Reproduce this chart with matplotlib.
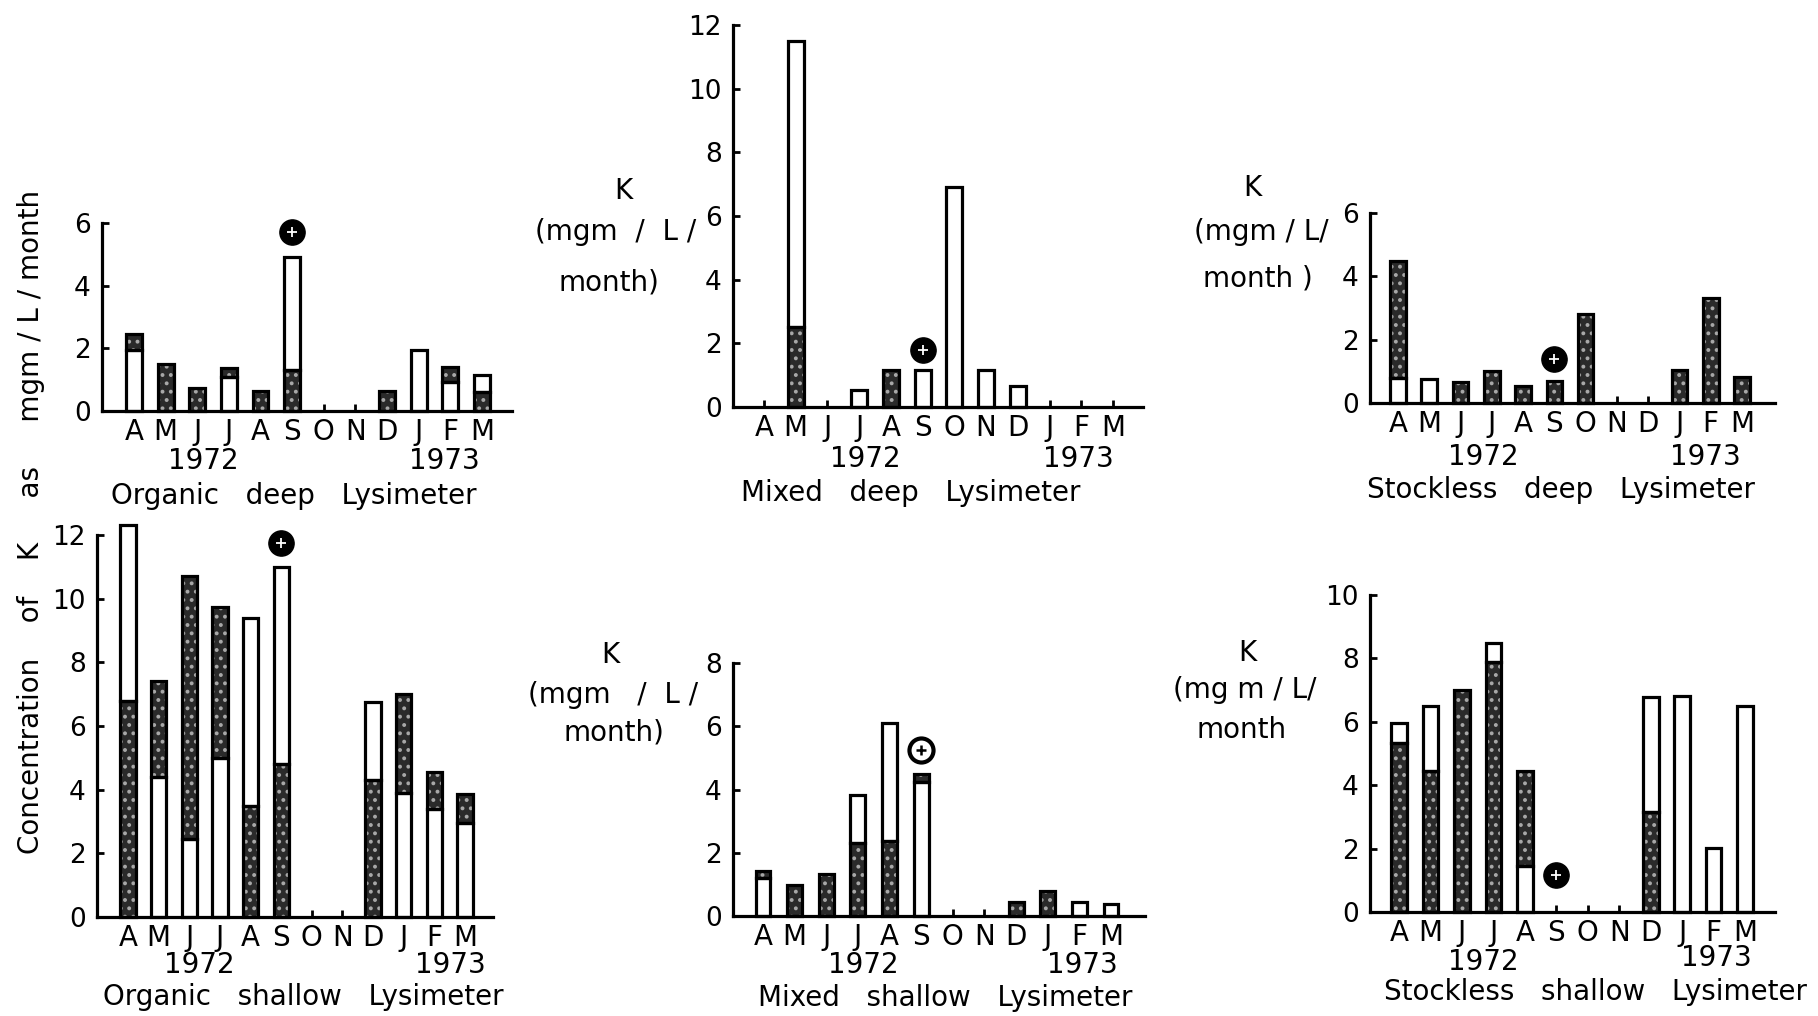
import numpy as np
import matplotlib
matplotlib.use('Agg')
import matplotlib.pyplot as plt

# month axis, April 1972 to March 1973
months = ['A', 'M', 'J', 'J', 'A', 'S', 'O', 'N', 'D', 'J', 'F', 'M']

# each bar = lower segment + upper segment, one white and one stippled;
# *_low_dark says whether the lower segment is the stippled one
org_deep_lower = [1.95, 1.5, 0.72, 1.08, 0.65, 1.3, 0, 0, 0.65, 1.95, 0.93, 0.6]
org_deep_upper = [0.5, 0, 0, 0.3, 0, 3.6, 0, 0, 0, 0, 0.47, 0.55]
org_deep_low_dark = [0, 1, 1, 0, 1, 1, 0, 0, 1, 0, 0, 1]
org_deep_mark = 5.7

mix_deep_lower = [0, 2.5, 0, 0.52, 1.15, 1.15, 6.9, 1.15, 0.65, 0, 0, 0]
mix_deep_upper = [0, 9.0, 0, 0, 0, 0, 0, 0, 0, 0, 0, 0]
mix_deep_low_dark = [0, 1, 0, 0, 1, 0, 0, 0, 0, 0, 0, 0]
mix_deep_mark = 1.8

stk_deep_lower = [0.8, 0.77, 0.66, 1.02, 0.55, 0.7, 2.8, 0, 0, 1.05, 3.32, 0.82]
stk_deep_upper = [3.7, 0, 0, 0, 0, 0, 0, 0, 0, 0, 0, 0]
stk_deep_low_dark = [0, 0, 1, 1, 1, 1, 1, 0, 0, 1, 1, 1]
stk_deep_mark = 1.4

org_shal_lower = [6.8, 4.4, 2.45, 5.0, 3.5, 4.8, 0, 0, 4.3, 3.9, 3.4, 2.95]
org_shal_upper = [5.5, 3.0, 8.25, 4.75, 5.9, 6.2, 0, 0, 2.45, 3.1, 1.15, 0.9]
org_shal_low_dark = [1, 0, 0, 0, 1, 1, 0, 0, 1, 0, 0, 0]
org_shal_mark = 11.75

mix_shal_lower = [1.2, 0.98, 1.32, 2.32, 2.37, 4.25, 0, 0, 0.45, 0.8, 0.45, 0.37]
mix_shal_upper = [0.22, 0, 0, 1.51, 3.73, 0.24, 0, 0, 0, 0, 0, 0]
mix_shal_low_dark = [0, 1, 1, 1, 1, 0, 0, 0, 1, 1, 0, 0]
mix_shal_mark = 5.25

stk_shal_lower = [5.32, 4.44, 7.0, 7.9, 1.44, 0, 0, 0, 3.14, 6.8, 2.03, 6.5]
stk_shal_upper = [0.65, 2.06, 0, 0.6, 3.01, 0, 0, 0, 3.63, 0, 0, 0]
stk_shal_low_dark = [1, 1, 1, 1, 0, 0, 0, 0, 1, 0, 0, 0]
stk_shal_mark = 1.16

W, H = 1818, 1016
FS = 20
plt.rcParams['font.family'] = 'DejaVu Sans'
plt.rcParams['hatch.linewidth'] = 1.6

fig = plt.figure(figsize=(W / 100, H / 100), dpi=100)
fig.patch.set_facecolor('white')


def ftext(x, y, s, **kw):
    # place text by pixel position of the reference
    kw.setdefault('fontsize', FS)
    fig.text(x / W, 1 - y / H, s, ha='center', va='center', **kw)


def segment(ax, x, bottom, h, dark, width):
    if h <= 0:
        return
    if dark:
        ax.bar(x, h, width, bottom=bottom, color='#2a2a2a', edgecolor='#a8a8a8',
               hatch='..', lw=0, clip_on=False, zorder=2)
    else:
        ax.bar(x, h, width, bottom=bottom, color='white', lw=0, clip_on=False, zorder=2)
    ax.bar(x, h, width, bottom=bottom, fill=False, edgecolor='black', lw=2.3,
           clip_on=False, zorder=3)


def panel(yaxis_x, first_x, last_x, end_x, zero_y, top_y, ytop,
          lower, upper, low_dark, mark, ring=False, width=0.5):
    step = (last_x - first_x) / 11
    ax = fig.add_axes([yaxis_x / W, 1 - zero_y / H,
                       (end_x - yaxis_x) / W, (zero_y - top_y) / H])
    ax.set_xlim(-(first_x - yaxis_x) / step, 11 + (end_x - last_x) / step)
    ax.set_ylim(0, ytop)
    x = np.arange(len(months))
    for i in x:
        segment(ax, i, 0, lower[i], low_dark[i], width)
        segment(ax, i, lower[i], upper[i], not low_dark[i], width)
    if ring:
        ax.scatter(5, mark, s=300, facecolor='white', edgecolor='black', lw=3,
                   zorder=5, clip_on=False)
        ax.scatter(5, mark, s=60, marker='+', c='black', lw=1.8, zorder=6, clip_on=False)
    else:
        ax.scatter(5, mark, s=330, c='black', zorder=5, clip_on=False)
        ax.scatter(5, mark, s=50, marker='+', c='white', lw=1.3, zorder=6, clip_on=False)
    ax.set_xticks(x)
    ax.set_xticklabels(months)
    ax.set_yticks(np.arange(0, ytop + 1, 2))
    ax.tick_params(axis='x', direction='in', length=5, width=2, pad=5, labelsize=FS)
    ax.tick_params(axis='y', direction='in', length=5, width=2, pad=8, labelsize=FS - 1)
    for s in ['top', 'right']:
        ax.spines[s].set_visible(False)
    for s in ['left', 'bottom']:
        ax.spines[s].set_linewidth(2.3)
    ax.patch.set_alpha(0)
    return ax


# Organic deep
panel(102, 134, 482, 512, 411, 223, 6,
      org_deep_lower, org_deep_upper, org_deep_low_dark, org_deep_mark)
ftext(203, 461, '1972')
ftext(444, 461, '1973')
ftext(294, 496, 'Organic   deep   Lysimeter')

# Organic shallow
panel(97, 128, 465, 493, 917, 535, 12,
      org_shal_lower, org_shal_upper, org_shal_low_dark, org_shal_mark)
ftext(199, 965, '1972')
ftext(450, 965, '1973')
ftext(303, 997, 'Organic   shallow   Lysimeter')

# Mixed deep
panel(733, 764, 1113, 1143, 407, 25, 12,
      mix_deep_lower, mix_deep_upper, mix_deep_low_dark, mix_deep_mark)
ftext(865, 459, '1972')
ftext(1078, 459, '1973')
ftext(911, 493, 'Mixed   deep   Lysimeter')
ftext(623, 191, 'K')
ftext(616, 232, '(mgm  /  L /')
ftext(609, 282, 'month)')

# Mixed shallow
panel(733, 763, 1111, 1145, 916, 663, 8,
      mix_shal_lower, mix_shal_upper, mix_shal_low_dark, mix_shal_mark,
      ring=True, width=0.47)
ftext(863, 965, '1972')
ftext(1082, 965, '1973')
ftext(945, 998, 'Mixed   shallow   Lysimeter')
ftext(610, 655, 'K')
ftext(613, 695, '(mgm   /  L /')
ftext(614, 733, 'month)')

# Stockless deep
panel(1370, 1398, 1742, 1775, 403, 213, 6,
      stk_deep_lower, stk_deep_upper, stk_deep_low_dark, stk_deep_mark)
ftext(1483, 457, '1972')
ftext(1705, 457, '1973')
ftext(1561, 490, 'Stockless   deep   Lysimeter')
ftext(1252, 188, 'K')
ftext(1261, 232, '(mgm / L/')
ftext(1258, 278, 'month )')

# Stockless shallow
panel(1370, 1399, 1745, 1775, 912, 595, 10,
      stk_shal_lower, stk_shal_upper, stk_shal_low_dark, stk_shal_mark)
ftext(1483, 962, '1972')
ftext(1716, 958, '1973')
ftext(1595, 992, 'Stockless   shallow   Lysimeter')
ftext(1247, 653, 'K')
ftext(1245, 690, '(mg m / L/')
ftext(1242, 730, 'month')

# shared label for the left column
ftext(31, 522, 'Concentration    of    K     as     mgm / L / month', rotation=90)

fig.savefig('out.png', dpi=100, facecolor='white')
